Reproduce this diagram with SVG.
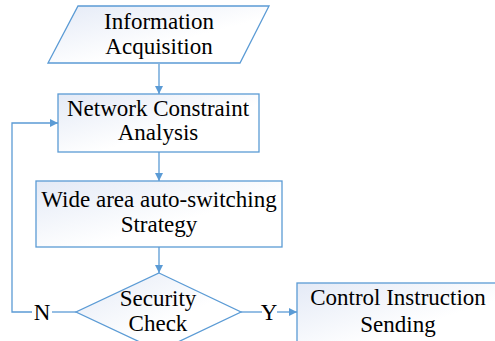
<svg xmlns="http://www.w3.org/2000/svg" width="495" height="341" viewBox="0 0 495 341">
<defs>
<linearGradient id="fillg" x1="0" y1="0" x2="1" y2="1">
<stop offset="0" stop-color="#e4eaf6"/>
<stop offset="0.6" stop-color="#ffffff"/>
</linearGradient>
<marker id="arr" viewBox="0 0 10 10" refX="10" refY="5" markerWidth="8" markerHeight="8" markerUnits="userSpaceOnUse" orient="auto">
<path d="M0,0 L10,5 L0,10 z" fill="#5b9bd5"/>
</marker>
<style>
.shape{fill:url(#fillg);stroke:#5b9bd5;stroke-width:1.3}
.t{font-family:'Liberation Serif','DejaVu Serif',serif;font-size:23px;fill:#000;text-anchor:middle}
.c{fill:none;stroke:#5b9bd5;stroke-width:1.3}
</style>
</defs>
<rect width="495" height="341" fill="#ffffff"/>
<g id="connectors">
<line class="c" x1="159" y1="64" x2="159" y2="94" marker-end="url(#arr)"/>
<line class="c" x1="159" y1="152" x2="159" y2="181" marker-end="url(#arr)"/>
<line class="c" x1="159" y1="247" x2="159" y2="273" marker-end="url(#arr)"/>
<polyline class="c" points="76,312 52,312"/>
<polyline class="c" points="32,312 12,312 12,123 58,123" marker-end="url(#arr)"/>
<line class="c" x1="241" y1="312" x2="262" y2="312"/>
<line class="c" x1="277" y1="312" x2="297" y2="312" marker-end="url(#arr)"/>
<text class="t" x="42" y="320">N</text>
<text class="t" x="269" y="320">Y</text>
</g>
<g id="info">
<polygon class="shape" points="78,6 269,6 240,63 48,63"/>
<text class="t" x="159" y="29">Information</text>
<text class="t" x="159" y="54">Acquisition</text>
</g>
<g id="network">
<rect class="shape" x="58" y="94" width="201" height="58"/>
<text class="t" x="158" y="116">Network Constraint</text>
<text class="t" x="158" y="140">Analysis</text>
</g>
<g id="strategy">
<rect class="shape" x="36" y="181" width="246" height="66"/>
<text class="t" x="159" y="207">Wide area auto-switching</text>
<text class="t" x="159" y="232">Strategy</text>
</g>
<g id="security">
<polygon class="shape" points="159,273 241,312 159,351 76,312"/>
<text class="t" x="158" y="306">Security</text>
<text class="t" x="158" y="331">Check</text>
</g>
<g id="control">
<rect class="shape" x="297" y="283" width="210" height="70"/>
<text class="t" x="398" y="305">Control Instruction</text>
<text class="t" x="398" y="332">Sending</text>
</g>
</svg>
